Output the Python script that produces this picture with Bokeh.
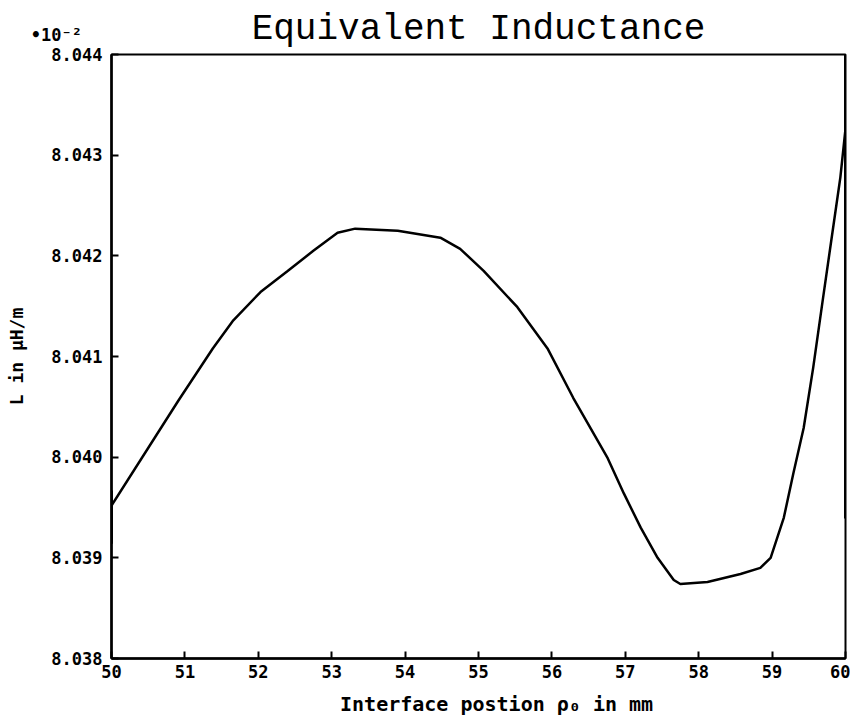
from bokeh.plotting import figure
from bokeh.models import FixedTicker, PrintfTickFormatter
from bokeh.embed import file_html
from bokeh.resources import INLINE

# ---- data ----
pos_mm = [50.0, 50.91, 51.38, 51.66, 52.03, 52.40, 52.75, 53.08, 53.32, 53.90,
          54.48, 54.75, 55.07, 55.53, 55.94, 56.29, 56.76, 56.98, 57.21, 57.44,
          57.66, 57.75, 58.12, 58.57, 58.84, 58.98, 59.16, 59.29, 59.43, 59.56,
          59.69, 59.80, 59.93, 60.0]
L_val = [8.03952, 8.04056, 8.04108, 8.04136, 8.04164, 8.04185, 8.04205, 8.04223, 8.04227, 8.04225,
         8.04218, 8.04207, 8.04185, 8.04149, 8.04108, 8.04059, 8.03999, 8.03964, 8.03930, 8.03900,
         8.03878, 8.03874, 8.03876, 8.03884, 8.03890, 8.03900, 8.03940, 8.03984, 8.04029, 8.04089,
         8.04156, 8.04212, 8.04278, 8.04326]
left_edge_x = [50.0, 50.0]
left_edge_y = [8.03914, 8.03967]
right_edge_x = [60.0, 60.0]
right_edge_y = [8.03939, 8.04400]
x_ticks = [50, 51, 52, 53, 54, 55, 56, 57, 58, 59, 60]
y_ticks = [8.038, 8.039, 8.040, 8.041, 8.042, 8.043, 8.044]
title_text = "Equivalent Inductance"
x_label = "\u00a0\u00a0\u00a0Interface postion \u03c1\u2080 in mm"
y_label = "L in \u03bcH/m"
exp_text = "\u202210\u207b\u00b2"

W, H = 850, 719
p = figure(width=W, height=H, x_range=(50, 60), y_range=(8.038, 8.044),
           output_backend="svg", toolbar_location=None,
           min_border_left=111, min_border_right=W - 845, min_border_top=54,
           min_border_bottom=H - 658)

p.title.text = title_text
p.title.text_font = "Liberation Mono"
p.title.text_font_size = "36px"
p.title.text_font_style = "normal"
p.title.text_color = "black"
p.title.align = "center"
p.title.standoff = 9

p.grid.visible = False
p.outline_line_color = "black"
p.outline_line_width = 2
p.background_fill_color = "white"
p.border_fill_color = "white"

for ax in (p.xaxis[0], p.yaxis[0]):
    ax.axis_line_width = 2.5
    ax.axis_line_color = "black"
    ax.major_tick_in = 7
    ax.major_tick_out = 0
    ax.major_tick_line_width = 2
    ax.minor_tick_line_color = None
    ax.major_label_text_font = "DejaVu Sans Mono"
    ax.major_label_text_font_style = "bold"
    ax.major_label_text_font_size = "17px"
    ax.major_label_text_color = "black"
    ax.axis_label_text_font = "DejaVu Sans Mono"
    ax.axis_label_text_font_style = "bold"
    ax.axis_label_text_color = "black"

p.xaxis.ticker = FixedTicker(ticks=x_ticks)
p.xaxis.formatter = PrintfTickFormatter(format="%d")
p.xaxis.major_label_standoff = 6
p.xaxis.axis_label = x_label
p.xaxis.axis_label_text_font_size = "20px"
p.xaxis.axis_label_standoff = 11

p.yaxis.ticker = FixedTicker(ticks=y_ticks)
p.yaxis.formatter = PrintfTickFormatter(format="%.3f")
p.yaxis.major_label_overrides = {y_ticks[-1]: exp_text + "\u00a0\u00a0\n8.044\n\u00a0"}
p.yaxis.major_label_text_line_height = 1.0
p.yaxis.major_label_standoff = 9
p.yaxis.axis_label = y_label
p.yaxis.axis_label_text_font_size = "18px"
p.yaxis.axis_label_standoff = 1

p.line(pos_mm, L_val, line_color="black", line_width=2.5)
p.line(left_edge_x, left_edge_y, line_color="black", line_width=3)
p.line(right_edge_x, right_edge_y, line_color="black", line_width=3)

open("out.html", "w").write(file_html(p, INLINE))
